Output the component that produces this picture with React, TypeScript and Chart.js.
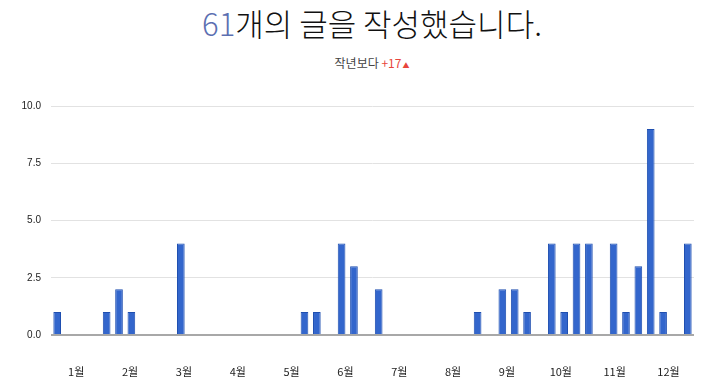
import React, { useEffect, useRef } from "react";
import { Chart, registerables } from "chart.js";

Chart.register(...registerables);

const TOTAL_POSTS = "61";
const TITLE_REST = "개의 글을 작성했습니다.";
const SUBTITLE_LABEL = "작년보다";
const SUBTITLE_DIFF = "+17";

// Weekly post counts (52 weeks of the year)
const WEEK_COUNTS = [
  1, 0, 0, 0, 1, 2, 1, 0, 0, 0,
  4, 0, 0, 0, 0, 0, 0, 0, 0, 0,
  1, 1, 0, 4, 3, 0, 2, 0, 0, 0,
  0, 0, 0, 0, 1, 0, 2, 2, 1, 0,
  4, 1, 4, 4, 0, 4, 1, 3, 9, 1,
  0, 4,
];

const MONTH_LABELS = ["1월", "2월", "3월", "4월", "5월", "6월", "7월", "8월", "9월", "10월", "11월", "12월"];
const Y_TICKS = [0, 2.5, 5, 7.5, 10];

const WEEKS_PER_YEAR = 52.25;
const MONTH_LABEL_OFFSET = 1.54;

export default function App() {
  const ref = useRef<HTMLCanvasElement | null>(null);

  useEffect(() => {
    if (!ref.current) return;
    const points = WEEK_COUNTS.map((v, i) => ({ x: i, y: v })).filter((p) => p.y > 0);
    const monthPos = MONTH_LABELS.map((_, i) => MONTH_LABEL_OFFSET + (i * WEEKS_PER_YEAR) / 12);
    const chart = new Chart(ref.current, {
      type: "bar",
      data: {
        datasets: [
          {
            data: points as any,
            backgroundColor: "#3366cc",
            borderColor: "#1f4fb0",
            borderWidth: 1,
            barPercentage: 0.62,
            categoryPercentage: 1,
          },
        ],
      },
      options: {
        animation: false,
        responsive: false,
        maintainAspectRatio: false,
        layout: { padding: { top: 10, right: 26, left: 0, bottom: 0 } },
        plugins: { legend: { display: false }, tooltip: { enabled: false }, title: { display: false } },
        scales: {
          x: {
            type: "linear",
            offset: false,
            min: -0.5,
            max: WEEK_COUNTS.length - 0.5,
            grid: { display: false, drawTicks: false, offset: false },
            border: { display: false },
            afterBuildTicks: (s: any) => {
              s.ticks = monthPos.map((v) => ({ value: v }));
            },
            afterFit: (s: any) => {
              s.height = 52;
            },
            ticks: {
              autoSkip: false,
              maxRotation: 0,
              padding: 30,
              color: "#222",
              font: { family: "'Noto Sans CJK KR', sans-serif", size: 11 },
              callback: (_v: any, i: number) => MONTH_LABELS[i],
            },
          },
          y: {
            min: 0,
            max: 10,
            afterBuildTicks: (s: any) => {
              s.ticks = Y_TICKS.map((v) => ({ value: v }));
            },
            afterFit: (s: any) => {
              s.width = 51;
            },
            grid: {
              drawTicks: false,
              color: (c: any) => (c.tick && c.tick.value === 0 ? "#a8a8a8" : "#e2e2e2"),
              lineWidth: (c: any) => (c.tick && c.tick.value === 0 ? 2 : 1),
            },
            border: { display: false },
            ticks: {
              padding: 10,
              color: "#222",
              font: { family: "'Liberation Sans', Arial, sans-serif", size: 10 },
              callback: (v: any) => Number(v).toFixed(1),
            },
          },
        },
      },
    });
    return () => chart.destroy();
  }, []);

  return (
    <div
      style={{
        position: "absolute",
        left: 0,
        top: 0,
        width: 720,
        height: 387,
        background: "#fff",
        overflow: "hidden",
      }}
    >
      <div
        style={{
          position: "absolute",
          top: 7,
          left: 24,
          width: 696,
          textAlign: "center",
          fontFamily: "'Noto Sans CJK KR', sans-serif",
          fontWeight: 300,
          fontSize: 31,
          lineHeight: "31px",
          color: "#111",
          whiteSpace: "nowrap",
        }}
      >
        <span style={{ color: "#5c6fb1" }}>{TOTAL_POSTS}</span>
        {TITLE_REST}
      </div>
      <div
        style={{
          position: "absolute",
          top: 56,
          left: 24,
          width: 696,
          textAlign: "center",
          fontFamily: "'Noto Sans CJK KR', sans-serif",
          fontSize: 12,
          lineHeight: "14px",
          color: "#444",
          whiteSpace: "nowrap",
        }}
      >
        {SUBTITLE_LABEL} <span style={{ color: "#e8453c" }}>{SUBTITLE_DIFF}</span>
        <span style={{ color: "#e8453c", fontSize: 7, verticalAlign: "middle", marginLeft: 1 }}>▲</span>
      </div>
      <canvas
        ref={ref}
        width={720}
        height={297}
        style={{ position: "absolute", left: 0, top: 90, width: 720, height: 297 }}
      />
    </div>
  );
}
